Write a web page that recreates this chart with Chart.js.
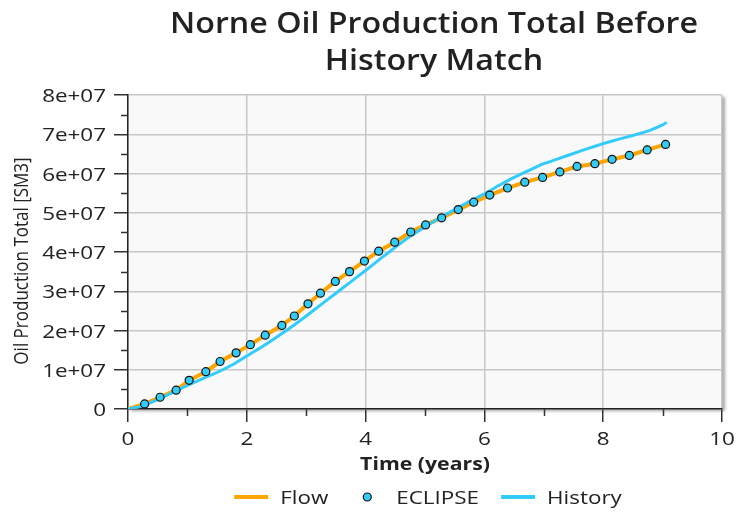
<!DOCTYPE html>
<html><head><meta charset="utf-8">
<script src="https://cdn.jsdelivr.net/npm/chart.js@4"></script>
<style>html,body{margin:0;padding:0;background:#fff}</style>
</head><body>
<canvas id="c" width="741" height="517" style="width:741px;height:517px;display:block"></canvas>
<script>
// ---- texts ----
const titleLines = ["Norne Oil Production Total Before", "History Match"];
const xAxisTitle = "Time (years)";
const yAxisTitle = "Oil Production Total [SM3]";
const seriesNames = ["Flow", "ECLIPSE", "History"];

// ---- tick values ----
const xTicks = [0, 2, 4, 6, 8, 10];
const xMinorTicks = [1, 3, 5, 7, 9];
const yTicks = [0, 1e7, 2e7, 3e7, 4e7, 5e7, 6e7, 7e7, 8e7];
const yMinorTicks = [5e6, 1.5e7, 2.5e7, 3.5e7, 4.5e7, 5.5e7, 6.5e7, 7.5e7];

// ---- series (time in years, total in SM3) ----
const flowTime = [0, 0.28, 0.54, 0.81, 1.03, 1.31, 1.55, 1.82, 2.06, 2.31, 2.59, 2.80, 3.03, 3.24, 3.49, 3.73, 3.98, 4.22, 4.49, 4.76, 5.01, 5.28, 5.56, 5.82, 6.09, 6.39, 6.68, 6.98, 7.27, 7.56, 7.86, 8.15, 8.44, 8.74, 9.05];
const flowTotal = [0, 1.3e6, 3.0e6, 4.8e6, 7.3e6, 9.5e6, 1.21e7, 1.43e7, 1.64e7, 1.88e7, 2.13e7, 2.37e7, 2.68e7, 2.95e7, 3.25e7, 3.50e7, 3.77e7, 4.02e7, 4.25e7, 4.51e7, 4.69e7, 4.87e7, 5.08e7, 5.27e7, 5.45e7, 5.63e7, 5.78e7, 5.90e7, 6.04e7, 6.18e7, 6.25e7, 6.36e7, 6.46e7, 6.60e7, 6.74e7];

const eclipseTime = [0.28, 0.54, 0.81, 1.03, 1.31, 1.55, 1.82, 2.06, 2.31, 2.59, 2.80, 3.03, 3.24, 3.49, 3.73, 3.98, 4.22, 4.49, 4.76, 5.01, 5.28, 5.56, 5.82, 6.09, 6.39, 6.68, 6.98, 7.27, 7.56, 7.86, 8.15, 8.44, 8.74, 9.05];
const eclipseTotal = [1.3e6, 3.0e6, 4.8e6, 7.3e6, 9.5e6, 1.21e7, 1.43e7, 1.64e7, 1.88e7, 2.13e7, 2.37e7, 2.68e7, 2.95e7, 3.25e7, 3.50e7, 3.77e7, 4.02e7, 4.25e7, 4.51e7, 4.69e7, 4.87e7, 5.08e7, 5.27e7, 5.45e7, 5.63e7, 5.78e7, 5.90e7, 6.04e7, 6.18e7, 6.25e7, 6.36e7, 6.46e7, 6.60e7, 6.74e7];

const historyTime = [0, 0.25, 0.5, 0.75, 1.0, 1.25, 1.5, 1.75, 2.0, 2.25, 2.5, 2.75, 3.0, 3.25, 3.5, 3.75, 4.0, 4.25, 4.5, 4.75, 5.0, 5.25, 5.5, 5.75, 6.0, 6.25, 6.5, 6.75, 7.0, 7.25, 7.5, 7.75, 8.0, 8.25, 8.5, 8.75, 9.0, 9.07];
const historyTotal = [0, 0.8e6, 2.4e6, 4.2e6, 6.0e6, 7.7e6, 9.3e6, 1.12e7, 1.35e7, 1.58e7, 1.83e7, 2.09e7, 2.37e7, 2.66e7, 2.95e7, 3.24e7, 3.53e7, 3.83e7, 4.12e7, 4.40e7, 4.64e7, 4.87e7, 5.08e7, 5.29e7, 5.48e7, 5.70e7, 5.90e7, 6.08e7, 6.25e7, 6.38e7, 6.51e7, 6.64e7, 6.76e7, 6.87e7, 6.97e7, 7.08e7, 7.24e7, 7.30e7];

// ---- styles ----
const FLOW_COLOR = '#ffa500';
const HIST_COLOR = '#33ccfa';
const FONT = '"Open Sans"';
const TEXT = '#222';
const SX = 1.18; // horizontal text stretch

const pts = (xs, ys) => xs.map((x, i) => ({ x, y: ys[i] }));

function fmtY(v) {
  if (v === 0) return '0';
  const e = Math.floor(Math.log10(Math.abs(v)) + 1e-9);
  const m = Math.round(v / Math.pow(10, e));
  return m + 'e+' + (e < 10 ? '0' : '') + e;
}

// draw horizontally stretched text; align: 'left' | 'center' | 'right'
function sText(ctx, str, x, y, font, align, sx) {
  ctx.save();
  ctx.font = font;
  ctx.textAlign = 'left';
  const w = ctx.measureText(str).width * sx;
  const left = align === 'center' ? x - w / 2 : align === 'right' ? x - w : x;
  ctx.translate(left, y);
  ctx.scale(sx, 1);
  ctx.fillText(str, 0, 0);
  ctx.restore();
  return w;
}

const plotBg = {
  id: 'plotBg',
  beforeDraw(chart) {
    const { ctx, chartArea: a } = chart;
    ctx.save();
    ctx.shadowColor = 'rgba(0,0,0,0.35)';
    ctx.shadowBlur = 3;
    ctx.shadowOffsetX = 3;
    ctx.shadowOffsetY = 2;
    ctx.fillStyle = '#f9f9f9';
    ctx.fillRect(a.left, a.top, a.right - a.left, a.bottom - a.top);
    ctx.restore();
  }
};

const decor = {
  id: 'decor',
  afterDraw(chart) {
    const { ctx, chartArea: a, scales } = chart;
    ctx.save();
    // minor ticks
    ctx.strokeStyle = '#333';
    ctx.lineWidth = 1.5;
    ctx.beginPath();
    yMinorTicks.forEach(v => {
      const p = Math.round(scales.y.getPixelForValue(v)) + 0.5;
      ctx.moveTo(a.left - 7, p); ctx.lineTo(a.left, p);
    });
    xMinorTicks.forEach(v => {
      const p = Math.round(scales.x.getPixelForValue(v)) + 0.5;
      ctx.moveTo(p, a.bottom); ctx.lineTo(p, a.bottom + 7);
    });
    ctx.stroke();

    ctx.fillStyle = TEXT;
    ctx.textBaseline = 'alphabetic';
    // tick labels
    const tickFont = '19px ' + FONT;
    xTicks.forEach(v => {
      sText(ctx, String(v), scales.x.getPixelForValue(v), a.bottom + 36, tickFont, 'center', SX);
    });
    yTicks.forEach(v => {
      sText(ctx, fmtY(v), a.left - 22, scales.y.getPixelForValue(v) + 7, tickFont, 'right', SX);
    });
    // axis titles
    sText(ctx, xAxisTitle, (a.left + a.right) / 2, a.bottom + 61, '700 18px ' + FONT, 'center', SX);
    ctx.save();
    ctx.translate(28, 261);
    ctx.rotate(-Math.PI / 2);
    ctx.scale(1, SX);
    ctx.font = '17px ' + FONT;
    ctx.textAlign = 'center';
    ctx.fillText(yAxisTitle, 0, 0);
    ctx.restore();
    // title
    const titleFont = '600 28px ' + FONT;
    sText(ctx, titleLines[0], 434, 33, titleFont, 'center', 1.15);
    sText(ctx, titleLines[1], 434, 70, titleFont, 'center', 1.15);
    // legend
    const ly = 497;
    const legFont = '19px ' + FONT;
    ctx.font = legFont;
    const sym = 34, gap = 12, spacing = 22;
    const widths = seriesNames.map(n => sym + gap + ctx.measureText(n).width * SX);
    const total = widths.reduce((s, w) => s + w, 0) + spacing * (seriesNames.length - 1);
    let x = (a.left + a.right) / 2 - total / 2 + 3;
    seriesNames.forEach((n, i) => {
      if (i === 1) {
        ctx.beginPath();
        ctx.arc(x + sym / 2, ly, 4, 0, Math.PI * 2);
        ctx.fillStyle = HIST_COLOR; ctx.fill();
        ctx.lineWidth = 1.2; ctx.strokeStyle = '#111'; ctx.stroke();
      } else {
        ctx.beginPath();
        ctx.moveTo(x, ly); ctx.lineTo(x + sym, ly);
        ctx.lineWidth = 4; ctx.strokeStyle = i === 0 ? FLOW_COLOR : HIST_COLOR; ctx.stroke();
      }
      ctx.fillStyle = TEXT;
      sText(ctx, n, x + sym + gap, ly + 7, legFont, 'left', SX);
      x += widths[i] + spacing;
    });
    ctx.restore();
  }
};

new Chart(document.getElementById('c'), {
  type: 'line',
  data: {
    datasets: [
      { label: seriesNames[1], data: pts(eclipseTime, eclipseTotal), showLine: false,
        pointRadius: 4, pointBackgroundColor: HIST_COLOR, pointBorderColor: '#111', pointBorderWidth: 1.2, order: 0 },
      { label: seriesNames[2], data: pts(historyTime, historyTotal), borderColor: HIST_COLOR, borderWidth: 3,
        pointRadius: 0, tension: 0.2, order: 1, fill: false },
      { label: seriesNames[0], data: pts(flowTime, flowTotal), borderColor: FLOW_COLOR, borderWidth: 4,
        pointRadius: 0, tension: 0, order: 2, fill: false }
    ]
  },
  options: {
    responsive: false, animation: false, devicePixelRatio: 1,
    layout: { padding: { top: 95, right: 19, bottom: 0, left: 0 } },
    plugins: { legend: { display: false }, title: { display: false }, tooltip: { enabled: false } },
    scales: {
      x: {
        type: 'linear', min: 0, max: 10,
        afterBuildTicks: s => { s.ticks = xTicks.map(v => ({ value: v })); },
        afterFit: s => { s.height = 108; },
        ticks: { display: false },
        grid: { color: '#c8c8c8', lineWidth: 1.5, tickLength: 13, tickColor: '#333', tickWidth: 1.5 },
        border: { color: '#222', width: 1.5 }
      },
      y: {
        type: 'linear', min: 0, max: 8e7,
        afterBuildTicks: s => { s.ticks = yTicks.map(v => ({ value: v })); },
        afterFit: s => { s.width = 128; },
        ticks: { display: false },
        grid: { color: '#c8c8c8', lineWidth: 1.5, tickLength: 14, tickColor: '#333', tickWidth: 1.5 },
        border: { color: '#222', width: 1.5 }
      }
    }
  },
  plugins: [plotBg, decor]
});
</script>
</body></html>
